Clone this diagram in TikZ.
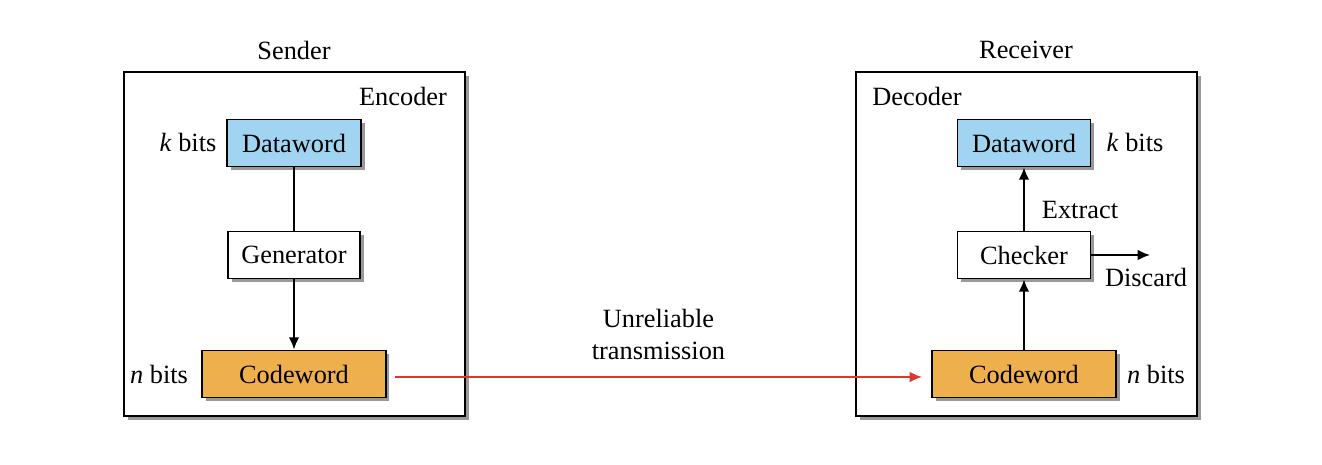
\documentclass[tikz,border=0pt]{standalone}
\usepackage{fontspec}
\setmainfont{Liberation Serif}
\usetikzlibrary{shadows,arrows.meta}
\definecolor{dwblue}{RGB}{160,212,240}
\definecolor{cworange}{RGB}{238,176,76}
\definecolor{linkred}{RGB}{226,52,52}
\tikzset{
  shade box/.style = {draw, line width = 1pt, drop shadow = {shadow xshift = 2pt, shadow yshift = -2pt, fill = gray!80, opacity = 1}},
  unitbox/.style = {shade box, minimum height = 0.94cm, inner sep = 0pt},
  link/.style = {line width = 1.1pt}
}

\begin{document}
\begin{tikzpicture}[x = 0.02cm, y = -0.02cm, font = \fontsize{15}{18}\selectfont, >={Latex[length=7pt,width=6pt]}]
        \useasboundingbox (0,0) rectangle (1322,464);
        
        \draw [shade box, fill = white] (124,72) rectangle (465,416);
        \draw [shade box, fill = white] (856,72) rectangle (1197,416);
        \node (sender) at (294,50) {Sender};
        \node (receiver) at (1026,50) {Receiver};
        \node (enc) at (403,96) {Encoder};
        \node (dec) at (917,96) {Decoder};
        
        \node [unitbox, fill = dwblue, minimum width = 2.68cm] (dataL) at (294,143) {Dataword};
        \node [unitbox, fill = white, minimum width = 2.64cm] (gen) at (294,255) {Generator};
        \node [unitbox, fill = cworange, minimum width = 3.68cm] (codeL) at (294,374) {Codeword};
        \node (kL) at (188,142) {\textit{k} bits};
        \node (nL) at (159,374) {\textit{n} bits};
        
        \node [unitbox, fill = dwblue, minimum width = 2.66cm] (dataR) at (1024,143) {Dataword};
        \node [unitbox, fill = white, minimum width = 2.66cm] (check) at (1024,255) {Checker};
        \node [unitbox, fill = cworange, minimum width = 3.68cm] (codeR) at (1024,374) {Codeword};
        \node (kR) at (1135,142) {\textit{k} bits};
        \node (nR) at (1156,374) {\textit{n} bits};
        \node (extract) at (1080,210) {Extract};
        \node (discard) at (1146,277) {Discard};
        \coordinate (out) at (1150,255);
        \coordinate (txstart) at (395,377);
        \coordinate (txend) at (922,377);
        
        \draw [link] (dataL) -- (gen);
        \draw [link, ->] (gen) -- (codeL);
        \draw [link, ->] (codeR) -- (check);
        \draw [link, ->] (check) -- (dataR);
        \draw [link, ->] (check) -- (out);
        \draw [link, ->, linkred] (txstart) -- (txend)
            node [midway, above = 6pt, black, align = center] {Unreliable\\transmission};
    \end{tikzpicture}
\end{document}
